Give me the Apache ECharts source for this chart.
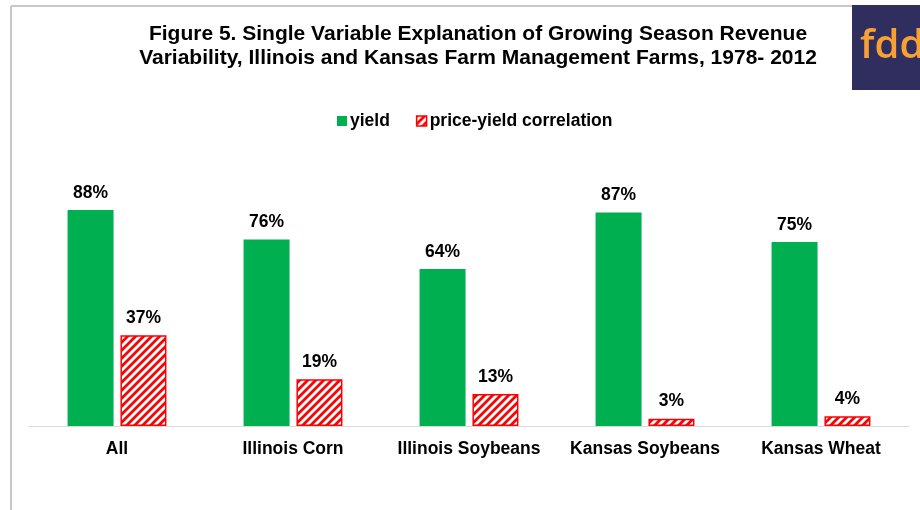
<!DOCTYPE html>
<html>
<head>
<meta charset="utf-8">
<script src="https://cdn.jsdelivr.net/npm/echarts@6/dist/echarts.min.js"></script>
<style>
  html, body { margin: 0; padding: 0; background: #fff; }
  #chart { width: 920px; height: 510px; }
</style>
</head>
<body>
<div id="chart"></div>
<script>
// Share of growing-season revenue variability explained by a single variable (%)
const categories = ['All', 'Illinois Corn', 'Illinois Soybeans', 'Kansas Soybeans', 'Kansas Wheat'];
const yieldShare = [88, 76, 64, 87, 75];
const correlationShare = [37, 19, 13, 3, 4];
const seriesNames = ['yield', 'price-yield correlation'];

// Diagonal red hatch used for the correlation bars
function makeHatch() {
  const size = 8;
  const c = document.createElement('canvas');
  c.width = size; c.height = size;
  const g = c.getContext('2d');
  g.fillStyle = '#ffffff';
  g.fillRect(0, 0, size, size);
  g.strokeStyle = '#ff0000';
  g.lineWidth = 2.8;
  g.beginPath();
  for (let k = -1; k <= 1; k++) {
    g.moveTo(k * size - 1, size + 1);
    g.lineTo(k * size + size + 1, -1);
  }
  g.stroke();
  return c;
}
const hatch = { image: makeHatch(), repeat: 'repeat' };

const font = 'Liberation Sans, Arial, sans-serif';
const labelSize = 17.5;
const chart = echarts.init(document.getElementById('chart'), null, { renderer: 'canvas' });

chart.setOption({
  animation: false,
  backgroundColor: '#ffffff',
  title: {
    text: 'Figure 5. Single Variable Explanation of Growing Season Revenue\nVariability, Illinois and Kansas Farm Management Farms, 1978- 2012',
    left: 473,
    textAlign: 'center',
    top: 17,
    textStyle: { fontFamily: font, fontSize: 21, fontWeight: 'bold', color: '#000', lineHeight: 24 }
  },
  legend: {
    top: 107,
    left: 332,
    itemWidth: 10,
    itemHeight: 10,
    itemGap: 26,
    textStyle: { fontFamily: font, fontSize: labelSize, fontWeight: 'bold', color: '#000', padding: [0, 0, 0, -2] },
    data: [
      { name: seriesNames[0], icon: 'rect' },
      { name: seriesNames[1], icon: 'rect', itemStyle: { color: hatch, borderColor: '#ff0000', borderWidth: 1.5 } }
    ]
  },
  grid: { left: 29, right: 11, top: 180.5, bottom: 84, containLabel: false },
  xAxis: {
    type: 'category',
    data: categories,
    axisLine: { lineStyle: { color: '#d9d9d9', width: 1 } },
    axisTick: { show: false },
    axisLabel: { interval: 0, fontFamily: font, fontSize: labelSize, fontWeight: 'bold', color: '#000', margin: 14 }
  },
  yAxis: { type: 'value', min: 0, max: 100, show: false, splitLine: { show: false } },
  series: [
    {
      name: seriesNames[0],
      type: 'bar',
      data: yieldShare,
      barWidth: 46,
      barGap: '15%',
      itemStyle: { color: '#00b050' },
      label: {
        show: true, position: 'top', distance: 8, formatter: '{c}%',
        fontFamily: font, fontSize: labelSize, fontWeight: 'bold', color: '#000'
      }
    },
    {
      name: seriesNames[1],
      type: 'bar',
      data: correlationShare,
      barWidth: 46,
      itemStyle: { color: hatch, borderColor: '#ff0000', borderWidth: 1.5 },
      label: {
        show: true, position: 'top', distance: 8, formatter: '{c}%',
        fontFamily: font, fontSize: labelSize, fontWeight: 'bold', color: '#000'
      }
    }
  ],
  graphic: [
    // frame lines at top and left
    { type: 'line', shape: { x1: 11, y1: 6, x2: 852, y2: 6 }, style: { stroke: '#c8c8c8', lineWidth: 2 } },
    { type: 'line', shape: { x1: 11, y1: 6, x2: 11, y2: 510 }, style: { stroke: '#c8c8c8', lineWidth: 2 } },
    // fdd badge
    { type: 'rect', shape: { x: 852, y: 5, width: 68, height: 85 }, style: { fill: '#2f2e5e' } },
    {
      type: 'text', left: 860, top: 27,
      style: { text: 'fdd', fill: '#f7a134', font: '600 40px "Open Sans", "Noto Sans", sans-serif' }
    }
  ]
});
</script>
</body>
</html>
